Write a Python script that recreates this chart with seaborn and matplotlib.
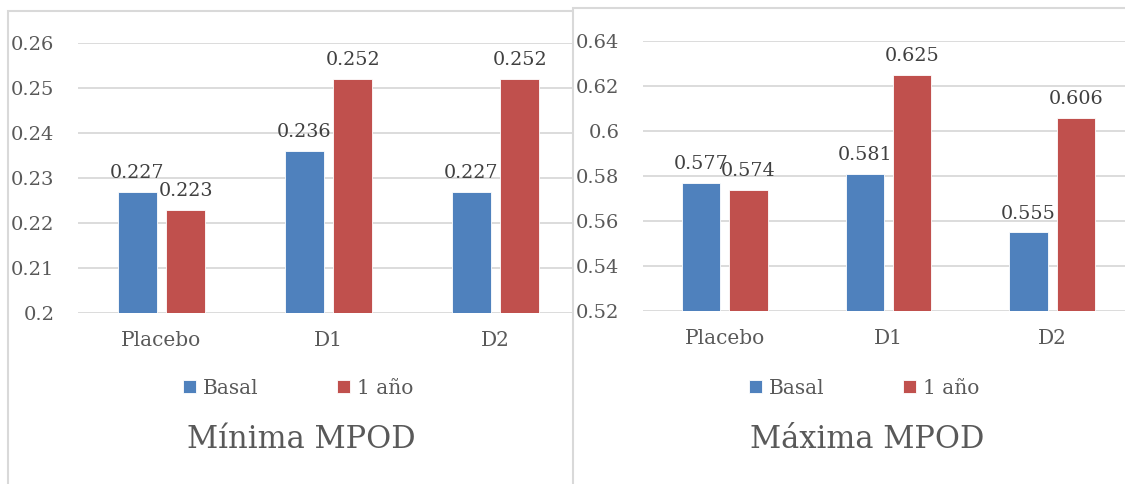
import pandas as pd
import matplotlib
matplotlib.use('Agg')
import matplotlib.pyplot as plt
from matplotlib.patches import Rectangle
from matplotlib.ticker import FuncFormatter
import seaborn as sns

# datos
grupos = ['Placebo', 'D1', 'D2']
series = ['Basal', '1 año']
minima_basal = [0.227, 0.236, 0.227]
minima_1a = [0.223, 0.252, 0.252]
maxima_basal = [0.577, 0.581, 0.555]
maxima_1a = [0.574, 0.625, 0.606]
ticks_min = [0.2, 0.21, 0.22, 0.23, 0.24, 0.25, 0.26]
ticks_max = [0.52, 0.54, 0.56, 0.58, 0.6, 0.62, 0.64]
colores = ['#4F81BD', '#C0504D']

sns.set_theme(style='white')
plt.rcParams['font.family'] = ['DejaVu Serif']
gris = '#595959'


def tabla(basal, anio):
    return pd.DataFrame({
        'grupo': grupos * 2,
        'serie': [series[0]] * 3 + [series[1]] * 3,
        'valor': basal + anio,
    })


fig = plt.figure(figsize=(11.25, 4.84), dpi=100)

# marcos de los dos gráficos
fig.add_artist(Rectangle((8 / 1125, -0.05), 0.6, 1 - 11 / 484 + 0.05,
                         transform=fig.transFigure, facecolor='white',
                         edgecolor='#D9D9D9', linewidth=1.5, zorder=-1))
fig.add_artist(Rectangle((573 / 1125, -0.05), 0.6, 1 - 8 / 484 + 0.05,
                         transform=fig.transFigure, facecolor='white',
                         edgecolor='#D9D9D9', linewidth=1.5, zorder=0.5))

ax1 = fig.add_axes([78 / 1125, 1 - 313 / 484, 501 / 1125, 270 / 484], zorder=0)
ax2 = fig.add_axes([643 / 1125, 1 - 311 / 484, 491 / 1125, 270 / 484], zorder=1)

paneles = [
    (ax1, tabla(minima_basal, minima_1a), ticks_min, 'Mínima MPOD', 298),
    (ax2, tabla(maxima_basal, maxima_1a), ticks_max, 'Máxima MPOD', 864),
]

for ax, df, ticks, titulo, xc in paneles:
    ax.set_facecolor('none')
    sns.barplot(data=df, x='grupo', y='valor', hue='serie', palette=colores,
                saturation=1, width=0.58, gap=0.19, edgecolor='white',
                linewidth=0.6, ax=ax, zorder=3)
    ax.set_ylim(ticks[0], ticks[-1])
    ax.set_yticks(ticks)
    ax.yaxis.set_major_formatter(FuncFormatter(lambda v, p: f'{v:g}'))
    ax.grid(axis='y', color='#D9D9D9', linewidth=1.3, zorder=0)
    ax.grid(axis='x', visible=False)
    for s in ax.spines.values():
        s.set_visible(False)
    ax.tick_params(axis='y', length=0, pad=17, labelsize=14, labelcolor=gris)
    ax.tick_params(axis='x', length=0, pad=13, labelsize=14.5, labelcolor=gris)
    ax.set_xlabel('')
    ax.set_ylabel('')
    for cont in ax.containers:
        ax.bar_label(cont, fmt='%.3f', padding=7, fontsize=13.8, color='#404040')
    handles, labels = ax.get_legend_handles_labels()
    ax.legend(handles, labels, loc='center', ncol=2, frameon=False,
              bbox_to_anchor=(xc / 1125, 1 - 388 / 484),
              bbox_transform=fig.transFigure, fontsize=14.5,
              labelcolor=gris, handlelength=0.65, handleheight=0.65,
              handletextpad=0.35, columnspacing=3.9)
    fig.text(xc / 1125 + 0.003, 1 - 440 / 484, titulo, ha='center', va='center',
             fontsize=22, color=gris)

fig.savefig('out.png', dpi=100)
